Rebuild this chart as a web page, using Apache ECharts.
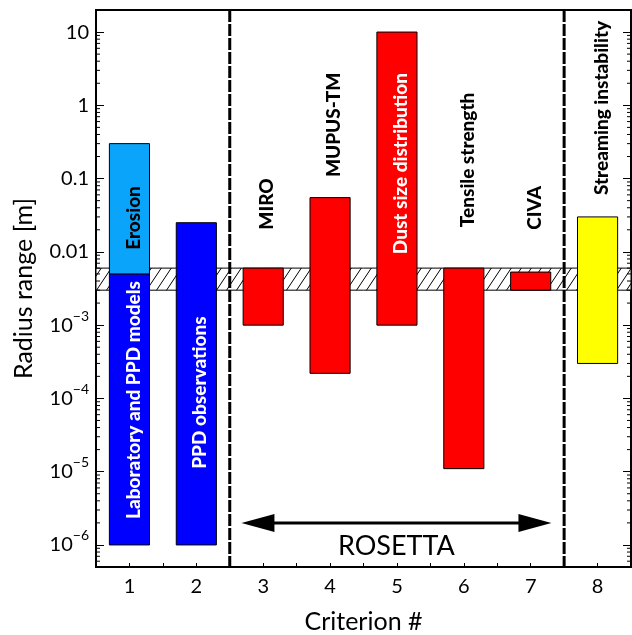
<!DOCTYPE html>
<html><head><meta charset="utf-8">
<script src="https://cdn.jsdelivr.net/npm/echarts@6/dist/echarts.min.js"></script>
<style>html,body{margin:0;padding:0;background:#fff}#c{width:632px;height:635px}</style>
</head><body><div id="c"></div>
<script>
// ---------- data ----------
const criteria = [1, 2, 3, 4, 5, 6, 7, 8];
const criterionNames = ['Laboratory and PPD models', 'PPD observations', 'MIRO', 'MUPUS-TM',
  'Dust size distribution', 'Tensile strength', 'CIVA', 'Streaming instability'];
const criterionSource = ['lab', 'lab', 'rosetta', 'rosetta', 'rosetta', 'rosetta', 'rosetta', 'theory'];
const radiusMin = [1e-6, 1e-6, 1e-3, 2.2e-4, 1e-3, 1.1e-5, 3e-3, 3e-4];
const radiusMax = [5e-3, 2.5e-2, 6e-3, 5.5e-2, 10, 6e-3, 5.3e-3, 3e-2];
const erosionCriterion = 1;
const erosionName = 'Erosion';
const erosionRange = [5e-3, 0.3];
const preferredRange = [3e-3, 6e-3];
const sectionDividers = [2.5, 7.5];
const rosettaName = 'ROSETTA';
const rosettaSpan = [2.675, 7.31];
const xTickLabels = ['1', '2', '3', '4', '5', '6', '7', '8'];
const yTickValues = [1e-6, 1e-5, 1e-4, 1e-3, 1e-2, 1e-1, 1, 10];
const yTickLabels = ['10{s|−6}', '10{s|−5}', '10{s|−4}', '10{s|−3}', '0.01', '0.1', '1', '10'];

// ---------- annotation anchors (data units) ----------
const labelAnchor = [9.5e-5, 1.2e-4, 0.045, 0.54, 0.16, 0.18, 0.04, 0.92];
const erosionLabelAnchor = 0.029;
const arrowLevel = 2e-6;
const rosettaTextLevel = 0.97e-6;

// ---------- styles ----------
const X_MIN = 0.5, X_MAX = 8.5, Y_MIN = 5e-7, Y_MAX = 20;
const sourceColor = { lab: '#0000FF', rosetta: '#FF0000', theory: '#FFFF00' };
const erosionColor = '#0AA5FA';
const insideWhite = [true, true, false, false, true, false, false, false];
const FONT = 'Lato, "Open Sans", sans-serif';

function hatchPattern() {
  const w = 10, h = 15;
  const cv = document.createElement('canvas');
  cv.width = w; cv.height = h;
  const g = cv.getContext('2d');
  g.fillStyle = '#fff'; g.fillRect(0, 0, w, h);
  g.strokeStyle = '#000'; g.lineWidth = 1;
  [-w, 0, w].forEach(dx => {
    g.beginPath(); g.moveTo(dx, h); g.lineTo(dx + w, 0); g.stroke();
  });
  return cv;
}
const hatch = hatchPattern();

const minorTicks = [];
for (let k = -7; k <= 1; k++) for (let m = 2; m <= 9; m++) {
  const v = m * Math.pow(10, k);
  if (v > Y_MIN && v < Y_MAX) minorTicks.push([X_MIN, v]);
}

const barData = criteria.map((c, i) => [c, radiusMin[i], radiusMax[i]]);
barData.push([erosionCriterion, erosionRange[0], erosionRange[1]]);
const barColor = criterionSource.map(s => sourceColor[s]).concat([erosionColor]);

const labelData = criteria.map((c, i) => [c, labelAnchor[i]]);
labelData.push([erosionCriterion, erosionLabelAnchor]);
const labelText = criterionNames.concat([erosionName]);
const labelFill = insideWhite.map(w => w ? '#fff' : '#000').concat(['#000']);

const chart = echarts.init(document.getElementById('c'));
const yLabelFmt = v => {
  const i = yTickValues.findIndex(t => Math.abs(Math.log10(t) - Math.log10(v)) < 1e-6);
  return i < 0 ? '' : yTickLabels[i];
};
chart.setOption({
  animation: false,
  grid: { left: 96, right: 1, top: 10, bottom: 68, show: true, borderColor: '#000', borderWidth: 2,
    outerBoundsMode: 'none', containLabel: false },
  xAxis: {
    type: 'value', min: X_MIN, max: X_MAX, interval: 0.5,
    axisLine: { onZero: false, lineStyle: { color: '#000', width: 2 } },
    axisTick: { inside: true, length: 4, lineStyle: { color: '#000', width: 1 } },
    axisLabel: { fontSize: 20, fontFamily: FONT, color: '#000', margin: 10,
      formatter: v => Number.isInteger(v) ? xTickLabels[v - 1] : '' },
    splitLine: { show: false },
    name: 'Criterion #', nameLocation: 'middle', nameGap: 42,
    nameTextStyle: { fontSize: 25, fontFamily: FONT, color: '#000' }
  },
  yAxis: [{
    type: 'log', logBase: 10, min: Y_MIN, max: Y_MAX, splitNumber: 8, position: 'left',
    axisLine: { lineStyle: { color: '#000', width: 2 } },
    axisTick: { inside: true, length: 8, lineStyle: { color: '#000', width: 1 } },
    axisLabel: { fontSize: 20, fontFamily: FONT, color: '#000', margin: 7, formatter: yLabelFmt,
      rich: { s: { fontSize: 14, fontFamily: FONT, color: '#000', verticalAlign: 'top', padding: [0, 0, 18, 0] } } },
    splitLine: { show: false },
    name: 'Radius range [m]', nameLocation: 'middle', nameGap: 60,
    nameTextStyle: { fontSize: 25, fontFamily: FONT, color: '#000' }
  }, {
    type: 'log', logBase: 10, min: Y_MIN, max: Y_MAX, splitNumber: 8, position: 'right',
    axisLine: { lineStyle: { color: '#000', width: 2 } },
    axisTick: { inside: true, length: 8, lineStyle: { color: '#000', width: 1 } },
    axisLabel: { show: false }, splitLine: { show: false }
  }],
  series: [
    { // preferred size band (hatched)
      type: 'custom', data: [[X_MIN, preferredRange[0], X_MAX, preferredRange[1]]],
      encode: { x: [0, 2], y: [1, 3] }, silent: true, z: 1,
      renderItem: (p, api) => {
        const a = api.coord([api.value(0), api.value(3)]);
        const b = api.coord([api.value(2), api.value(1)]);
        return { type: 'rect', shape: { x: a[0], y: a[1], width: b[0] - a[0], height: b[1] - a[1] },
          style: { fill: { image: hatch, repeat: 'repeat' }, stroke: '#000', lineWidth: 1 } };
      }
    },
    { // minor log ticks on both sides
      type: 'custom', data: minorTicks, encode: { x: 0, y: 1 }, silent: true, z: 3,
      renderItem: (p, api) => {
        const v = api.value(1);
        const l = api.coord([X_MIN, v]), r = api.coord([X_MAX, v]);
        return { type: 'group', children: [
          { type: 'line', shape: { x1: l[0], y1: l[1], x2: l[0] + 4, y2: l[1] }, style: { stroke: '#000', lineWidth: 1 } },
          { type: 'line', shape: { x1: r[0], y1: r[1], x2: r[0] - 4, y2: r[1] }, style: { stroke: '#000', lineWidth: 1 } }
        ] };
      }
    },
    { // dashed section dividers
      type: 'custom', data: sectionDividers.map(x => [x, Y_MIN, Y_MAX]), encode: { x: 0, y: [1, 2] },
      silent: true, z: 4,
      renderItem: (p, api) => {
        const a = api.coord([api.value(0), api.value(2)]);
        const b = api.coord([api.value(0), api.value(1)]);
        return { type: 'line', shape: { x1: a[0], y1: a[1], x2: b[0], y2: b[1] },
          style: { stroke: '#000', lineWidth: 3, lineDash: [12, 2] } };
      }
    },
    { // radius range bars
      type: 'custom', data: barData, encode: { x: 0, y: [1, 2] }, z: 5,
      renderItem: (p, api) => {
        const x = api.value(0);
        const lo = api.coord([x - 0.3, api.value(1)]);
        const hi = api.coord([x + 0.3, api.value(2)]);
        return { type: 'rect', shape: { x: lo[0], y: hi[1], width: hi[0] - lo[0], height: lo[1] - hi[1] },
          style: { fill: barColor[p.dataIndex], stroke: '#000', lineWidth: 1 } };
      }
    },
    { // rotated labels
      type: 'custom', data: labelData, encode: { x: 0, y: 1 }, silent: true, z: 6,
      renderItem: (p, api) => {
        const pt = api.coord([api.value(0), api.value(1)]);
        return { type: 'text', x: pt[0] + 4, y: pt[1], rotation: Math.PI / 2,
          style: { text: labelText[p.dataIndex], fill: labelFill[p.dataIndex],
            font: '900 19px ' + FONT, align: 'center', verticalAlign: 'middle' } };
      }
    },
    { // ROSETTA arrow + text
      type: 'custom', data: [[rosettaSpan[0], arrowLevel, rosettaSpan[1], rosettaTextLevel]],
      encode: { x: [0, 2], y: [1, 3] }, silent: true, z: 6,
      renderItem: (p, api) => {
        const a = api.coord([api.value(0), api.value(1)]);
        const b = api.coord([api.value(2), api.value(1)]);
        const t = api.coord([(api.value(0) + api.value(2)) / 2, api.value(3)]);
        const L = 33, H = 9, y = a[1];
        return { type: 'group', children: [
          { type: 'line', shape: { x1: a[0] + L - 2, y1: y, x2: b[0] - L + 2, y2: y }, style: { stroke: '#000', lineWidth: 3 } },
          { type: 'polygon', shape: { points: [[a[0], y], [a[0] + L, y - H], [a[0] + L, y + H]] }, style: { fill: '#000' } },
          { type: 'polygon', shape: { points: [[b[0], y], [b[0] - L, y - H], [b[0] - L, y + H]] }, style: { fill: '#000' } },
          { type: 'text', x: t[0], y: t[1], style: { text: rosettaName, fill: '#000', font: '27px ' + FONT,
            align: 'center', verticalAlign: 'middle' } }
        ] };
      }
    }
  ]
});
</script></body></html>
